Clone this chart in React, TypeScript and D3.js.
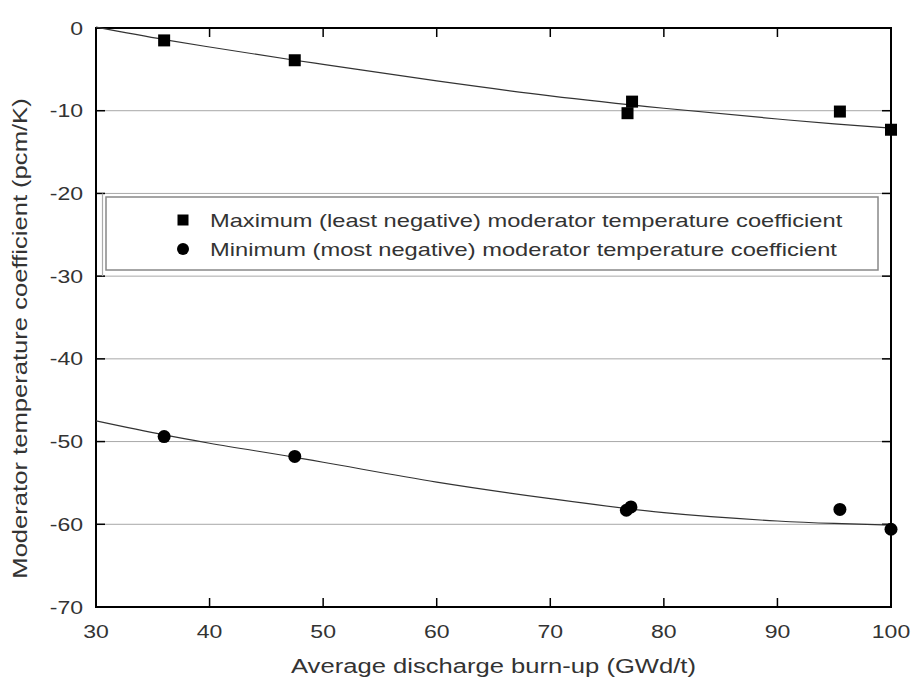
import React, { useEffect, useRef } from 'react';
import * as d3 from 'd3';

// measured points
const maxBurnup = [36, 47.5, 76.8, 77.2, 95.5, 100];
const maxCoef = [-1.5, -3.9, -10.3, -8.9, -10.1, -12.3];
const minBurnup = [36, 47.5, 76.7, 77.1, 95.5, 100];
const minCoef = [-49.4, -51.8, -58.3, -57.9, -58.2, -60.6];

// fitted curves
const fitBurnup = [30, 36, 40, 47.5, 50, 60, 70, 80, 90, 95, 100];
const maxFit = [0.1, -1.4, -2.3, -3.9, -4.4, -6.4, -8.2, -9.7, -11.0, -11.6, -12.1];
const minFit = [-47.5, -49.2, -50.2, -51.9, -52.5, -54.9, -56.9, -58.6, -59.6, -59.9, -60.1];

const xTicks = [30, 40, 50, 60, 70, 80, 90, 100];
const yTicks = [0, -10, -20, -30, -40, -50, -60, -70];

const legendLabels = [
  'Maximum (least negative) moderator temperature coefficient',
  'Minimum (most negative) moderator temperature coefficient',
];

const App = () => {
  const ref = useRef<SVGSVGElement>(null);

  useEffect(() => {
    const svg = d3.select(ref.current);
    svg.selectAll('*').remove();

    const margin = { top: 28, right: 21, bottom: 70, left: 96 };
    const width = 912;
    const height = 677;
    const font = "'Liberation Sans', Arial, sans-serif";
    const stretch = 1.28; // the original text is drawn wide

    const x = d3.scaleLinear().domain([30, 100]).range([margin.left, width - margin.right]);
    const y = d3.scaleLinear().domain([0, -70]).range([margin.top, height - margin.bottom]);

    const g = svg.append('g').style('font-family', font);

    // grid
    g.selectAll('.grid')
      .data(yTicks.filter(d => d !== 0 && d !== -70))
      .enter()
      .append('line')
      .attr('x1', x(30))
      .attr('x2', x(100))
      .attr('y1', d => y(d))
      .attr('y2', d => y(d))
      .attr('stroke', '#a8a8a8')
      .attr('stroke-width', 1);

    // inward ticks
    xTicks.slice(1, -1).forEach(t => {
      g.append('line').attr('x1', x(t)).attr('x2', x(t)).attr('y1', y(-70)).attr('y2', y(-70) - 9)
        .attr('stroke', '#000').attr('stroke-width', 1.5);
      g.append('line').attr('x1', x(t)).attr('x2', x(t)).attr('y1', y(0)).attr('y2', y(0) + 9)
        .attr('stroke', '#000').attr('stroke-width', 1.5);
    });
    yTicks.slice(1, -1).forEach(t => {
      g.append('line').attr('x1', x(30)).attr('x2', x(30) + 9).attr('y1', y(t)).attr('y2', y(t))
        .attr('stroke', '#000').attr('stroke-width', 1.5);
      g.append('line').attr('x1', x(100)).attr('x2', x(100) - 9).attr('y1', y(t)).attr('y2', y(t))
        .attr('stroke', '#000').attr('stroke-width', 1.5);
    });

    // frame
    g.append('rect')
      .attr('x', x(30))
      .attr('y', y(0))
      .attr('width', x(100) - x(30))
      .attr('height', y(-70) - y(0))
      .attr('fill', 'none')
      .attr('stroke', '#000')
      .attr('stroke-width', 2);

    // tick labels
    g.selectAll('.xlab')
      .data(xTicks)
      .enter()
      .append('text')
      .attr('transform', d => `translate(${x(d)},${y(-70) + 31}) scale(${stretch},1)`)
      .attr('text-anchor', 'middle')
      .style('font-size', '18px')
      .attr('fill', '#333')
      .text(d => d);

    g.selectAll('.ylab')
      .data(yTicks)
      .enter()
      .append('text')
      .attr('transform', d => `translate(${x(30) - 13},${y(d) + 6.5}) scale(${stretch},1)`)
      .attr('text-anchor', 'end')
      .style('font-size', '18px')
      .attr('fill', '#333')
      .text(d => d);

    // axis titles
    g.append('text')
      .attr('transform', `translate(${(x(30) + x(100)) / 2},673) scale(${stretch},1)`)
      .attr('text-anchor', 'middle')
      .style('font-size', '20px')
      .attr('fill', '#333')
      .text('Average discharge burn-up (GWd/t)');

    g.append('text')
      .attr('transform', `translate(27,${(y(0) + y(-70)) / 2 + 21}) rotate(-90) scale(${stretch},1)`)
      .attr('text-anchor', 'middle')
      .style('font-size', '20px')
      .attr('fill', '#333')
      .text('Moderator temperature coefficient (pcm/K)');

    // fit lines
    const line = d3
      .line<number>()
      .x((d, i) => x(fitBurnup[i]))
      .y(d => y(d))
      .curve(d3.curveMonotoneX);

    [maxFit, minFit].forEach(s => {
      g.append('path')
        .datum(s)
        .attr('d', line)
        .attr('fill', 'none')
        .attr('stroke', '#333')
        .attr('stroke-width', 1.2);
    });

    // markers
    g.selectAll('.sq')
      .data(maxCoef)
      .enter()
      .append('rect')
      .attr('x', (d, i) => x(maxBurnup[i]) - 6)
      .attr('y', d => y(d) - 6)
      .attr('width', 12)
      .attr('height', 12)
      .attr('fill', '#000');

    g.selectAll('.ci')
      .data(minCoef)
      .enter()
      .append('circle')
      .attr('cx', (d, i) => x(minBurnup[i]))
      .attr('cy', d => y(d))
      .attr('r', 6.5)
      .attr('fill', '#000');

    // legend
    const lg = g.append('g');
    lg.append('rect')
      .attr('x', 106).attr('y', 197).attr('width', 772).attr('height', 73)
      .attr('fill', '#fff').attr('stroke', '#888').attr('stroke-width', 1.5);
    lg.append('line')
      .attr('x1', 102.5).attr('x2', 102.5).attr('y1', y(-20)).attr('y2', y(-30))
      .attr('stroke', '#aaa').attr('stroke-width', 1.2);

    legendLabels.forEach((lab, i) => {
      const yy = 220 + i * 29;
      if (i === 0) {
        lg.append('rect').attr('x', 177.5).attr('y', yy - 5.5).attr('width', 11).attr('height', 11).attr('fill', '#000');
      } else {
        lg.append('circle').attr('cx', 183).attr('cy', yy).attr('r', 6).attr('fill', '#000');
      }
      lg.append('text')
        .attr('transform', `translate(210,${yy + 7}) scale(${stretch},1)`)
        .style('font-size', '18.5px')
        .attr('fill', '#333')
        .text(lab);
    });
  }, []);

  return (
    <svg
      ref={ref}
      width={912}
      height={677}
      style={{ position: 'absolute', left: 0, top: 0, background: '#fff' }}
    />
  );
};

export default App;
